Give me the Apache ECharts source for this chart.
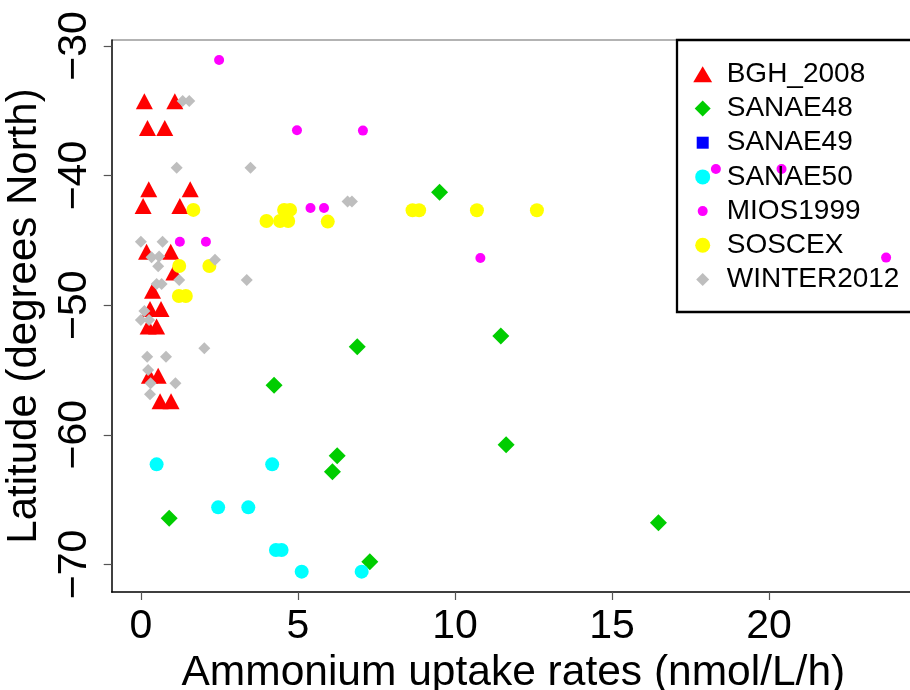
<!DOCTYPE html>
<html>
<head>
<meta charset="utf-8">
<script src="https://cdn.jsdelivr.net/npm/echarts@6/dist/echarts.min.js"></script>
<style>
  html, body { margin: 0; padding: 0; background: #fff; }
  #chart { width: 910px; height: 690px; }
</style>
</head>
<body>
<div id="chart"></div>
<script>
const FONT = "'Liberation Sans', Arial, sans-serif";

// [uptake rate nmol/L/h, latitude]
const bgh2008 = [
  [0.11, -34.46], [1.08, -34.46], [0.21, -36.53], [0.76, -36.53],
  [0.25, -41.26], [1.57, -41.26], [0.07, -42.55], [1.24, -42.55],
  [0.18, -46.07], [0.95, -46.07], [1.05, -47.67], [0.37, -49.09],
  [0.29, -50.5], [0.64, -50.5], [0.23, -51.84], [0.5, -51.84],
  [0.27, -55.64], [0.55, -55.64], [0.61, -57.62], [0.96, -57.62]
];
const sanae48 = [
  [9.51, -41.29], [6.89, -53.2], [11.46, -52.38], [4.24, -56.18],
  [11.63, -60.76], [6.25, -61.61], [6.1, -62.85], [0.9, -66.44],
  [16.48, -66.78], [7.29, -69.79]
];
const sanae49 = [];
const sanae50 = [
  [0.5, -62.28], [4.18, -62.28], [2.46, -65.6], [3.42, -65.6],
  [4.3, -68.89], [4.48, -68.89], [5.12, -70.56], [7.03, -70.56]
];
const mios1999 = [
  [2.49, -31.08], [4.97, -36.5], [7.07, -36.53], [5.4, -42.5],
  [5.83, -42.5], [1.24, -45.1], [2.07, -45.1], [10.81, -46.36],
  [18.31, -39.49], [20.4, -39.49], [23.73, -46.33]
];
const soscex = [
  [1.67, -42.65], [4.0, -43.5], [4.56, -42.65], [4.75, -42.65],
  [4.43, -43.5], [4.69, -43.5], [5.95, -43.55], [8.65, -42.68],
  [8.86, -42.68], [10.7, -42.68], [12.61, -42.68], [1.22, -46.98],
  [2.18, -46.98], [1.21, -49.29], [1.43, -49.29]
];
const winter2012 = [
  [1.33, -34.24], [1.54, -34.24], [1.14, -39.39], [3.49, -39.39],
  [6.58, -42.0], [6.72, -42.0], [0.0, -45.1], [0.69, -45.1],
  [0.34, -46.3], [0.58, -46.25], [0.55, -47.0], [2.36, -46.5],
  [1.22, -48.05], [3.37, -48.05], [0.5, -48.36], [0.66, -48.36],
  [0.11, -50.45], [0.0, -51.14], [0.26, -51.14], [2.02, -53.33],
  [0.2, -53.97], [0.8, -53.97], [0.23, -55.0], [0.31, -56.03],
  [1.1, -56.03], [0.29, -56.88]
];

const xTicks = [0, 5, 10, 15, 20];
const yTicks = [-70, -60, -50, -40, -30];

// paths for legend icons so they keep their aspect inside the icon box
const ICONS = {
  triangle: "path://M0,-1L1.15,0.95L-1.15,0.95Z",
  diamond: "path://M0,-1L1,0L0,1L-1,0Z",
  rect: "path://M0,0L1,0L1,1L0,1Z",
  circle: "circle"
};

// name, data, colour, plot symbol, plot size, legend icon height, legend icon width
const groups = [
  ["BGH_2008", bgh2008, "#FF0000", "triangle", [17, 16], 16, 18.9],
  ["SANAE48", sanae48, "#00CD00", "diamond", 17, 16, 16],
  ["SANAE49", sanae49, "#0000FF", "rect", 12, 12, 12],
  ["SANAE50", sanae50, "#00FFFF", "circle", 14, 15, 15],
  ["MIOS1999", mios1999, "#FF00FF", "circle", 10, 10, 10],
  ["SOSCEX", soscex, "#FFFF00", "circle", 14, 15, 15],
  ["WINTER2012", winter2012, "#BEBEBE", "diamond", 12, 13, 13]
];

const legendRows = [73, 107.2, 141.4, 175.6, 209.8, 244, 278.2];
const legendIconX = 702.7;

const series = groups.map(([name, data, color, symbol, size]) => ({
  name,
  type: "scatter",
  data,
  symbol,
  symbolSize: size,
  symbolOffset: symbol === "triangle" ? [0, -2.6] : [0, 0],
  itemStyle: { color, opacity: 1 },
  emphasis: { disabled: true },
  animation: false
}));

// one legend per row so each icon gets its own size
const legends = groups.map(([name, , , symbol, , iconH, iconW], i) => ({
  data: [{ name, icon: ICONS[symbol] }],
  orient: "vertical",
  left: legendIconX - iconW / 2,
  top: legendRows[i] + 1.3 - 14,
  padding: 0,
  itemGap: 0,
  itemWidth: 38,
  itemHeight: iconH,
  selectedMode: false,
  textStyle: { fontFamily: FONT, fontSize: 28, lineHeight: 28, color: "#000" }
}));

const chart = echarts.init(document.getElementById("chart"), null, { renderer: "canvas" });

chart.setOption({
  backgroundColor: "#fff",
  animation: false,
  grid: { left: 111.7, top: 40, width: 803.3, height: 552, outerBoundsMode: "none", containLabel: false },
  legend: legends,
  xAxis: {
    type: "value",
    min: -0.93,
    max: 24.65,
    name: "Ammonium uptake rates (nmol/L/h)",
    nameLocation: "middle",
    nameGap: 52,
    nameTextStyle: { fontFamily: FONT, fontSize: 42.5, color: "#000" },
    axisLine: { show: true, onZero: false, lineStyle: { color: "#000", width: 1.5 } },
    axisTick: { show: true, length: 8, customValues: xTicks, lineStyle: { color: "#555", width: 1.2 } },
    axisLabel: { customValues: xTicks, margin: 14, fontFamily: FONT, fontSize: 41, color: "#000" },
    splitLine: { show: false }
  },
  yAxis: {
    type: "value",
    min: -72.13,
    max: -29.54,
    name: "Latitude (degrees North)",
    nameLocation: "middle",
    nameRotate: 90,
    nameGap: 61,
    nameTextStyle: { fontFamily: FONT, fontSize: 42, color: "#000" },
    axisLine: { show: true, onZero: false, lineStyle: { color: "#000", width: 1.5 } },
    axisTick: { show: true, length: 8, customValues: yTicks, lineStyle: { color: "#555", width: 1.2 } },
    axisLabel: {
      customValues: yTicks,
      rotate: 90,
      margin: 17,
      fontFamily: FONT,
      fontSize: 41,
      color: "#000",
      formatter: (v) => String(v).replace("-", "\u2212")
    },
    splitLine: { show: false }
  },
  graphic: [
    {
      type: "line",
      shape: { x1: 111.7, y1: 40, x2: 677, y2: 40 },
      style: { stroke: "#9a9a9a", lineWidth: 1.5 },
      silent: true
    },
    {
      type: "rect",
      shape: { x: 677, y: 40, width: 250, height: 272 },
      style: { fill: "none", stroke: "#000", lineWidth: 2.3 },
      silent: true
    }
  ],
  series
});
</script>
</body>
</html>
